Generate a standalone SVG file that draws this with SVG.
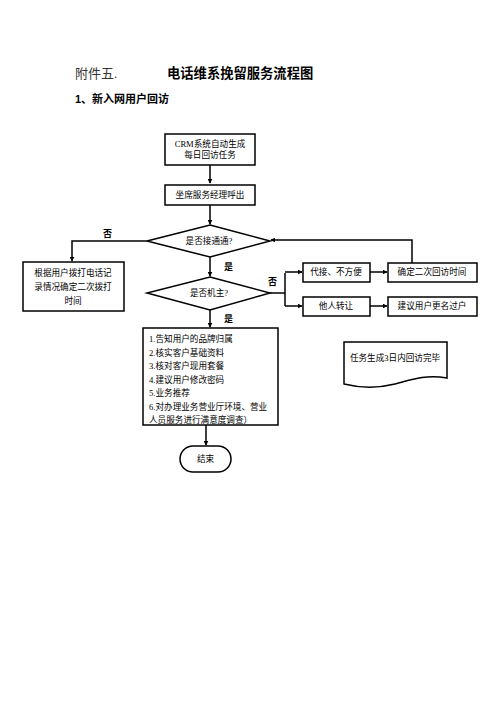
<svg xmlns="http://www.w3.org/2000/svg" width="496" height="702" viewBox="0 0 496 702">
<style>
.b{fill:#fff;stroke:#000;stroke-width:1.5}
.t{font-family:"Liberation Serif","Noto Sans CJK SC",serif;font-size:8.6px;fill:#000}
.m{text-anchor:middle}
.lb{font-family:"Liberation Serif","Noto Sans CJK SC",serif;font-size:9px;font-weight:bold;fill:#000}
.c{fill:none;stroke:#000;stroke-width:1.5}
</style>
<defs>
<marker id="a" viewBox="0 0 8 8" refX="7" refY="4" markerWidth="5" markerHeight="5" orient="auto" markerUnits="userSpaceOnUse"><path d="M0,0 L8,4 L0,8 Z" fill="#000"/></marker>
</defs>
<rect width="496" height="702" fill="#fff"/>
<g id="title">
<text x="75" y="78" style="font-family:'Liberation Serif','Noto Sans CJK SC',serif;font-size:13px;fill:#333">附件五.</text>
<text x="167" y="78" style="font-family:'Liberation Sans','Noto Sans CJK SC',sans-serif;font-size:13.3px;font-weight:bold;fill:#000">电话维系挽留服务流程图</text>
<text x="75" y="103" style="font-family:'Liberation Sans','Noto Sans CJK SC',sans-serif;font-size:11px;font-weight:bold;fill:#000">1、新入网用户回访</text>
</g>
<g id="connectors">
<path class="c" d="M210,165 V183" marker-end="url(#a)"/>
<path class="c" d="M210,205 V224" marker-end="url(#a)"/>
<path class="c" d="M210,257 V276" marker-end="url(#a)"/>
<path class="c" d="M210,310 V327" marker-end="url(#a)"/>
<path class="c" d="M206,425 V445" marker-end="url(#a)"/>
<path class="c" d="M147,241 H72 V261" marker-end="url(#a)"/>
<path class="c" d="M270,293 H285"/>
<path class="c" d="M285,273 V306"/>
<path class="c" d="M285,272 H302" marker-end="url(#a)"/>
<path class="c" d="M285,306 H302" marker-end="url(#a)"/>
<path class="c" d="M370,272 H387" marker-end="url(#a)"/>
<path class="c" d="M370,306 H387" marker-end="url(#a)"/>
<path class="c" d="M412,263 V240 H271" marker-end="url(#a)"/>
<text class="lb" x="103" y="237">否</text>
<text class="lb" x="224" y="270">是</text>
<text class="lb" x="268" y="285">否</text>
<text class="lb" x="224" y="322">是</text>
</g>
<g id="n1"><rect class="b" x="165" y="134" width="90" height="31"/>
<text class="t m" x="210" y="147">CRM系统自动生成</text><text class="t m" x="210" y="158">每日回访任务</text></g>
<g id="n2"><rect class="b" x="165" y="185" width="90" height="20"/>
<text class="t m" x="210" y="198">坐席服务经理呼出</text></g>
<g id="d1"><polygon class="b" points="210,225 270,241 210,257 147,241"/>
<text class="t m" x="209" y="244">是否接通通?</text></g>
<g id="n3"><rect class="b" x="23" y="262" width="101" height="49"/>
<text class="t m" x="73" y="276">根据用户拨打电话记</text><text class="t m" x="73" y="290">录情况确定二次拨打</text><text class="t m" x="73" y="304">时间</text></g>
<g id="d2"><polygon class="b" points="210,277 270,293 210,310 147,293"/>
<text class="t m" x="209" y="296">是否机主?</text></g>
<g id="n4"><rect class="b" x="303" y="263" width="67" height="19"/>
<text class="t m" x="336" y="275">代接、不方便</text></g>
<g id="n5"><rect class="b" x="303" y="297" width="67" height="19"/>
<text class="t m" x="336" y="309">他人转让</text></g>
<g id="n6"><rect class="b" x="388" y="263" width="89" height="19"/>
<text class="t m" x="432" y="275">确定二次回访时间</text></g>
<g id="n7"><rect class="b" x="388" y="297" width="89" height="19"/>
<text class="t m" x="432" y="309">建议用户更名过户</text></g>
<g id="n8"><rect class="b" x="143" y="328" width="135" height="97"/>
<text class="t" x="149" y="342">1.告知用户的品牌归属</text>
<text class="t" x="149" y="355.5">2.核实客户基础资料</text>
<text class="t" x="149" y="369">3.核对客户现用套餐</text>
<text class="t" x="149" y="382.5">4.建议用户修改密码</text>
<text class="t" x="149" y="396">5.业务推荐</text>
<text class="t" x="149" y="409.5">6.对办理业务营业厅环境、营业</text>
<text class="t" x="149" y="423">人员服务进行满意度调查）</text></g>
<g id="n9"><rect class="b" x="180" y="446" width="51" height="26" rx="13" ry="13"/>
<text class="t m" x="205.5" y="462">结束</text></g>
<g id="n10"><path class="b" d="M344,342 H447 V378 C425,374 410,380 395,384 C375,389 360,388 344,384 Z"/>
<text class="t m" x="395" y="361">任务生成3日内回访完毕</text></g>
</svg>
